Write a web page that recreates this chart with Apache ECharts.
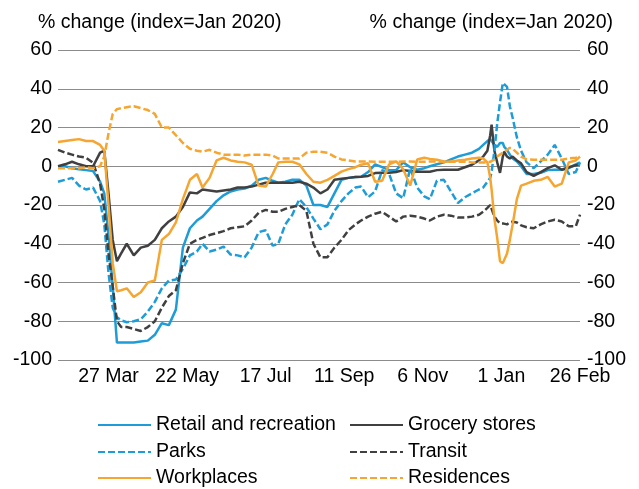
<!DOCTYPE html>
<html>
<head>
<meta charset="utf-8">
<script src="https://cdn.jsdelivr.net/npm/echarts@6/dist/echarts.min.js"></script>
<style>
  html, body { margin: 0; padding: 0; background: #fff; }
  #chart { width: 639px; height: 489px; }
</style>
</head>
<body>
<div id="chart"></div>
<script>
// days since 20 Feb 2020
const days = [0, 5, 10, 15, 20, 25, 30, 33, 36, 39, 42, 45, 49, 54, 59, 64, 69, 74, 79, 84,
  89, 94, 99, 103, 108, 113, 118, 123, 128, 133, 138, 143, 148, 153, 157, 162, 167, 172, 177, 182,
  187, 192, 197, 202, 207, 212, 216, 221, 226, 231, 236, 241, 246, 251, 256, 261, 265, 270, 275, 280,
  285, 290, 295, 300, 303, 306, 308, 309, 311, 313, 315, 317, 318, 320, 322, 324, 327, 330, 334, 339,
  344, 349, 354, 359, 364, 369, 372]

const xTickDays = [36, 92, 148, 204, 260, 316, 372]
const xTickLabels = ['27 Mar', '22 May', '17 Jul', '11 Sep', '6 Nov', '1 Jan', '26 Feb']

const retail = [0, 0, -1, -1.5, -2, -2.5, -8, -14, -36, -62, -91, -91, -91, -91, -90.5, -90, -87, -81, -82, -74,
  -42, -32, -28, -26, -22, -18, -15, -13, -12, -11.5, -10, -7, -6, -7.5, -8.5, -8, -7, -7, -10, -20,
  -20, -21, -14, -7, -6, -5.5, -5.4, -3, 1, -0.5, -2, -2, 2, -0.5, -1.8, -1, 0, 1, 2, 3.5,
  5, 6, 7, 9, 11, 13, 14, 13, 11, 10, 12, 12, 10, 8.5, 6, 4, 2.5, 0, -4, -4,
  -3.4, -2, -1.8, -1.8, -1, 1, 2]
const grocery = [0, 1, 2.3, 1, 0, 0, 7, 8, -14, -38, -49, -45, -40, -46, -42, -41, -38, -32, -28.5, -26,
  -21, -13.5, -14, -12, -12.5, -13, -12.5, -12, -11, -11, -10.5, -9.5, -8.5, -8.5, -8.5, -8.5, -8.5, -8, -9, -11,
  -14, -12, -7, -6.5, -6, -5.5, -5.4, -5, -3.5, -3.4, -3.4, -3, -2, -2.5, -2.8, -2.8, -2.8, -2, -1.8, -1.8,
  -1.8, -0.5, 0.8, 3, 5, 8, 16, 21.5, 8, 2, -3.4, 5, 7.5, 5, 4, 5, 3, 1.5, -3, -5,
  -3, -1, 0.5, -1.8, -0.5, 0.5, 1]
const parks = [-8, -7, -6, -10, -12, -11, -18, -30, -55, -73, -78, -79.5, -80.5, -80, -79, -75, -70, -63, -59, -58.5,
  -53, -46, -44, -40, -44, -43, -41.5, -45.6, -46, -47, -42, -34, -33, -41, -40, -30, -25, -17, -21, -27,
  -32.5, -30, -23, -18, -14, -11, -10.5, -16, -13, -2, -4, -14, -16.5, -1, -11, -15.5, -17, -7.5, -7, -13,
  -19, -16, -14, -12, -11, -8, -6, -3, 8, 22, 33, 43, 43, 41, 31, 25, 15, 8, 2, -1,
  2.5, 6, 11, 4, -4, -3, 2]
const transit = [8.5, 7, 6, 5, 4.4, 1.8, -9, -22, -45, -62, -80, -83, -83, -84, -85, -83, -80, -73, -67, -64,
  -50, -40, -38, -37, -35.5, -34.5, -33.5, -32, -31.5, -31, -28, -24, -22.5, -23.5, -23.5, -22, -21, -20, -23, -40,
  -47, -47, -42, -38, -33, -30, -28, -26, -24.5, -23.5, -26, -28.5, -26, -25.5, -26, -27, -28, -26, -25, -25.5,
  -26.5, -26.5, -26, -25, -23.5, -21.5, -20, -21, -26, -28, -29.5, -29.5, -30, -30, -29, -28.6, -29, -30.5, -31.5, -32,
  -30, -28.5, -27.6, -28.5, -31, -31, -25]
const workplaces = [12.5, 13, 13.5, 14, 13, 13, 11, 8, -20, -50, -64.5, -64, -63, -67.5, -65, -60, -59, -38, -35, -29,
  -17, -7, -4, -11, -6, 3, 4.4, 3, 2.3, 2, 0.8, -10, -10.5, -4, 2, 2.3, 2.3, 1, -4, -8,
  -8.5, -7, -5, -2.8, -1.5, -0.5, 0.8, 1.5, -8, -7.5, 1, 2.5, -1.5, -10, 3.5, 4.4, 3.8, 3.4, 2.5, 2.3,
  3, 3.4, 4, 4.4, 4, 2, -6, -12, -27, -37, -49, -50, -49, -45, -38, -30, -17, -10, -9, -7.5,
  -7, -5.5, -10.5, -9, 2, 3, 5]
const residences = [-1, -1, -1, -1, -0.5, -1, 0, 5, 17, 27, 29.5, 30, 30.5, 31, 30, 29, 27, 20, 20, 16,
  12, 9, 8, 7.5, 8.5, 7, 6, 6, 6, 5.5, 6, 6, 6, 5.5, 4, 4, 4, 4, 7, 7.5,
  7.5, 7, 5, 3.5, 3, 2.5, 2.5, 2.5, 2.3, 2.3, 2.3, 2.3, 2.5, 2.5, 2.3, 2.3, 2.5, 2.5, 2.3, 2.3,
  2.3, 2.3, 2, 2, 2, 2, 2.3, 3, 3.5, 5, 6, 7, 8, 8.5, 9.5, 9, 7, 5, 3.5, 3.4,
  3.4, 3.4, 3.4, 3.4, 4, 4.4, 5]

const FONT = "'Liberation Sans', Arial, sans-serif"
const BLUE = '#1e9cd7'
const DARK = '#404040'
const ORANGE = '#f6a530'
const GRID = '#8c8c8c'

const makeSeries = (name, values, color, dashed) => ({
  name,
  type: 'line',
  data: days.map((d, i) => [d, values[i]]),
  symbol: 'none',
  showSymbol: false,
  lineStyle: { color, width: 2.5, type: dashed ? [7, 3] : 'solid' },
  itemStyle: { color }
})

const yAxisBase = {
  type: 'value',
  min: -100,
  max: 60,
  interval: 20,
  axisLine: { show: false },
  axisTick: { show: false },
  axisLabel: { color: '#000', fontSize: 19.5, fontFamily: FONT }
}

// one legend per entry, two columns of three rows
const makeLegend = (name, left, top) => ({
  data: [name],
  left,
  top,
  itemWidth: 53,
  itemHeight: 12,
  itemStyle: { opacity: 0 },
  textStyle: { color: '#000', fontSize: 19.5, fontFamily: FONT, lineHeight: 20 }
})

const chart = echarts.init(document.getElementById('chart'), null, { renderer: 'canvas' })
chart.setOption({
  animation: false,
  backgroundColor: '#fff',
  textStyle: { fontFamily: FONT },
  title: [
    { text: '% change (index=Jan 2020)', left: 33, top: 8, textStyle: { fontSize: 19.5, fontWeight: 'normal', color: '#000', fontFamily: FONT } },
    { text: '% change (index=Jan 2020)', right: 21, top: 8, textStyle: { fontSize: 19.5, fontWeight: 'normal', color: '#000', fontFamily: FONT } }
  ],
  grid: { left: 58, right: 59, top: 50, bottom: 129 },
  xAxis: {
    type: 'value',
    min: 0,
    max: 372,
    axisLine: { show: false },
    axisTick: { show: false },
    splitLine: { show: false },
    axisLabel: {
      customValues: xTickDays,
      formatter: (v) => xTickLabels[xTickDays.indexOf(v)] || '',
      color: '#000',
      fontSize: 19.5,
      fontFamily: FONT,
      margin: 7,
      hideOverlap: false
    }
  },
  yAxis: [
    { ...yAxisBase, position: 'left', axisLabel: { ...yAxisBase.axisLabel, margin: 6 }, splitLine: { show: true, lineStyle: { color: GRID, width: 1 } } },
    { ...yAxisBase, position: 'right', axisLabel: { ...yAxisBase.axisLabel, margin: 7 }, splitLine: { show: false } }
  ],
  legend: [
    makeLegend('Retail and recreation', 92, 410),
    makeLegend('Parks', 92, 437),
    makeLegend('Workplaces', 92, 463),
    makeLegend('Grocery stores', 344, 410),
    makeLegend('Transit', 344, 437),
    makeLegend('Residences', 344, 463)
  ],
  series: [
    makeSeries('Retail and recreation', retail, BLUE, false),
    makeSeries('Grocery stores', grocery, DARK, false),
    makeSeries('Parks', parks, BLUE, true),
    makeSeries('Transit', transit, DARK, true),
    makeSeries('Workplaces', workplaces, ORANGE, false),
    makeSeries('Residences', residences, ORANGE, true)
  ]
})
</script>
</body>
</html>
